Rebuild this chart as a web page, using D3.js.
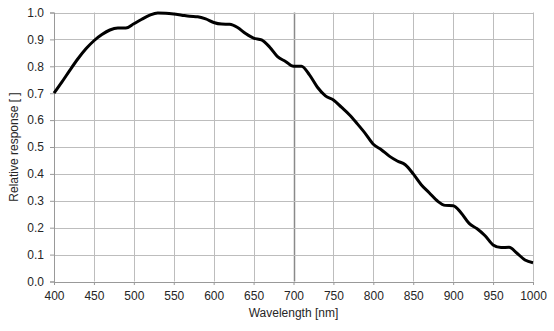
<!DOCTYPE html>
<html>
<head>
<meta charset="utf-8">
<script src="https://cdn.jsdelivr.net/npm/d3@7"></script>
<style>
  body { margin: 0; background: #fff; }
  text { font-family: "Liberation Sans", Arial, sans-serif; fill: #262626; }
</style>
</head>
<body>
<div class="d3target"></div>
<script>
'use strict';

// wavelength [nm] and relative response
var wavelength = [400, 410, 420, 430, 440, 450, 460, 470, 480, 490,
  500, 510, 520, 530, 540, 550, 560, 570, 580, 590,
  600, 610, 620, 630, 640, 650, 660, 670, 680, 690,
  700, 710, 720, 730, 740, 750, 760, 770, 780, 790,
  800, 810, 820, 830, 840, 850, 860, 870, 880, 890,
  900, 910, 920, 930, 940, 950, 960, 970, 980, 990, 1000];
var response = [0.700, 0.742, 0.786, 0.828, 0.865, 0.895, 0.918, 0.935, 0.942, 0.942,
  0.958, 0.975, 0.990, 0.998, 0.997, 0.994, 0.990, 0.986, 0.984, 0.976,
  0.963, 0.957, 0.956, 0.944, 0.922, 0.905, 0.898, 0.872, 0.836, 0.818,
  0.800, 0.800, 0.768, 0.722, 0.690, 0.675, 0.648, 0.620, 0.586, 0.550,
  0.510, 0.490, 0.466, 0.448, 0.434, 0.400, 0.360, 0.330, 0.300, 0.283,
  0.282, 0.255, 0.216, 0.196, 0.170, 0.136, 0.126, 0.127, 0.105, 0.080, 0.070];
var xTicks = [400, 450, 500, 550, 600, 650, 700, 750, 800, 850, 900, 950, 1000];
var yTicks = [0, 0.1, 0.2, 0.3, 0.4, 0.5, 0.6, 0.7, 0.8, 0.9, 1.0];

var width = 554, height = 331;
var margin = {top: 12, right: 21, bottom: 50, left: 54};

var svg = d3.select(".d3target").append("svg")
  .attr("width", width)
  .attr("height", height);

var x = d3.scaleLinear().domain([400, 1000]).range([margin.left, width - margin.right]);
var y = d3.scaleLinear().domain([0, 1]).range([height - margin.bottom + 0.5, margin.top + 0.5]);

// grid
svg.append("g").selectAll("line.v")
  .data(xTicks)
  .enter().append("line")
  .attr("x1", function(d) { return Math.round(x(d)) + 0.5; })
  .attr("x2", function(d) { return Math.round(x(d)) + 0.5; })
  .attr("y1", y(1))
  .attr("y2", y(0))
  .attr("stroke", function(d) { return d == 700 ? "#8a8a8a" : "#bdbdbd"; })
  .attr("stroke-width", function(d) { return d == 700 ? 1.5 : 1; });

svg.append("g").selectAll("line.h")
  .data(yTicks)
  .enter().append("line")
  .attr("x1", x(400))
  .attr("x2", x(1000))
  .attr("y1", function(d) { return Math.round(y(d)) + 0.5; })
  .attr("y2", function(d) { return Math.round(y(d)) + 0.5; })
  .attr("stroke", "#bdbdbd");

// axes
var xAxis = d3.axisBottom(x).tickValues(xTicks).tickSize(3).tickPadding(6).tickFormat(d3.format("d"));
var yAxis = d3.axisLeft(y).tickValues(yTicks).tickSize(4).tickPadding(6).tickFormat(d3.format(".1f"));

var gx = svg.append("g")
  .attr("transform", "translate(0," + (Math.round(y(0))) + ")")
  .call(xAxis);
var gy = svg.append("g")
  .attr("transform", "translate(" + (Math.round(x(400))) + ",0)")
  .call(yAxis);

[gx, gy].forEach(function(g) {
  g.select(".domain").attr("stroke", "#999");
  g.selectAll(".tick line").attr("stroke", "#999");
  g.selectAll(".tick text")
    .style("font-family", '"Liberation Sans", Arial, sans-serif')
    .style("font-size", "12px")
    .attr("fill", "#262626");
});

// curve
var line = d3.line()
  .x(function(d, i) { return x(wavelength[i]); })
  .y(function(d) { return y(d); })
  .curve(d3.curveMonotoneX);

svg.append("path")
  .datum(response)
  .attr("d", line)
  .attr("fill", "none")
  .attr("stroke", "#000")
  .attr("stroke-width", 3)
  .attr("stroke-linejoin", "round");

// axis titles
svg.append("text")
  .attr("x", x(700))
  .attr("y", 317)
  .attr("text-anchor", "middle")
  .style("font-size", "12px")
  .text("Wavelength [nm]");

svg.append("text")
  .attr("transform", "translate(18," + ((y(0) + y(1)) / 2) + ") rotate(-90)")
  .attr("text-anchor", "middle")
  .style("font-size", "12px")
  .text("Relative response [ ]");
</script>
</body>
</html>
